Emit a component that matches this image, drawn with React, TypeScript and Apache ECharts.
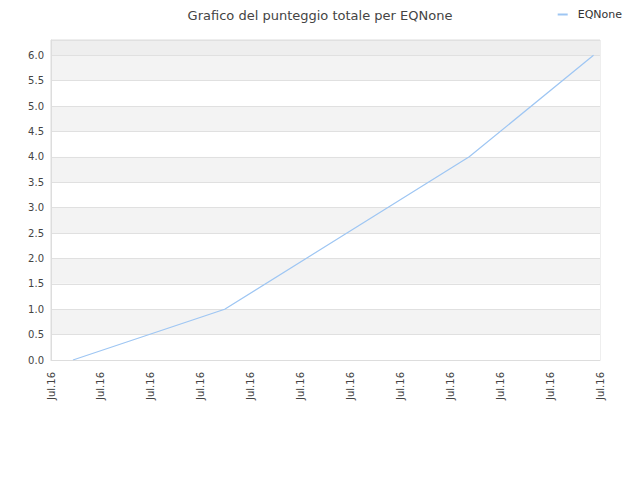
import React, { useEffect, useRef } from 'react'
import * as echarts from 'echarts'

const seriesName = 'EQNone'
const xLabels = ['Jul.16', 'Jul.16', 'Jul.16', 'Jul.16', 'Jul.16', 'Jul.16', 'Jul.16', 'Jul.16', 'Jul.16', 'Jul.16', 'Jul.16', 'Jul.16']
const pointX = [0.44, 3.48, 8.38, 10.87]
const pointY = [0, 1, 4, 6]

const bandColors = ['#ffffff', '#f3f3f3', '#ffffff', '#f3f3f3', '#ffffff', '#f3f3f3', '#ffffff', '#f3f3f3', '#ffffff', '#f3f3f3', '#ffffff', '#f3f3f3', '#eeeeee']

const App = () => {
  const chartRef = useRef<HTMLDivElement | null>(null)

  useEffect(() => {
    if (!chartRef.current) return
    const chart = echarts.init(chartRef.current, undefined, { renderer: 'svg' })

    chart.setOption({
      animation: false,
      backgroundColor: '#fff',
      textStyle: { fontFamily: 'DejaVu Sans' },
      title: {
        text: 'Grafico del punteggio totale per EQNone',
        left: 'center',
        top: 4,
        textStyle: { fontSize: 13, fontWeight: 'normal', color: '#444' },
      },
      legend: {
        right: 13,
        top: 4,
        icon: 'rect',
        itemWidth: 10,
        itemHeight: 2,
        itemGap: 8,
        textStyle: { fontSize: 11, color: '#333', padding: [0, 0, 0, 5] },
        data: [seriesName],
      },
      grid: {
        left: 51,
        right: 40,
        top: 40,
        bottom: 120,
        show: true,
        borderColor: '#dddddd',
        borderWidth: 1,
        backgroundColor: 'transparent',
      },
      xAxis: {
        type: 'value',
        min: 0,
        max: xLabels.length - 1,
        interval: 1,
        axisLine: { lineStyle: { color: '#dddddd' } },
        axisTick: { show: false },
        splitLine: { show: false },
        axisLabel: {
          rotate: 90,
          margin: 12,
          fontSize: 10,
          color: '#444',
          formatter: (v: number) => xLabels[Math.round(v)] ?? '',
        },
      },
      yAxis: {
        type: 'value',
        min: 0,
        max: 6.3,
        interval: 0.5,
        axisLine: { show: true, lineStyle: { color: '#dddddd' } },
        axisTick: { show: false },
        axisLabel: {
          fontSize: 10,
          color: '#444',
          margin: 7,
          showMaxLabel: false,
          formatter: (v: number) => v.toFixed(1),
        },
        splitLine: { show: true, lineStyle: { color: '#e0e0e0' } },
        splitArea: { show: true, areaStyle: { color: bandColors } },
      },
      series: [
        {
          name: seriesName,
          type: 'line',
          data: pointX.map((x, i) => [x, pointY[i]]),
          showSymbol: false,
          symbol: 'none',
          lineStyle: { color: '#9ec6f3', width: 1.2 },
          itemStyle: { color: '#9ec6f3' },
        },
      ],
    })

    return () => {
      chart.dispose()
    }
  }, [])

  return <div ref={chartRef} style={{ width: 640, height: 480, margin: -8 }} />
}

export default App
